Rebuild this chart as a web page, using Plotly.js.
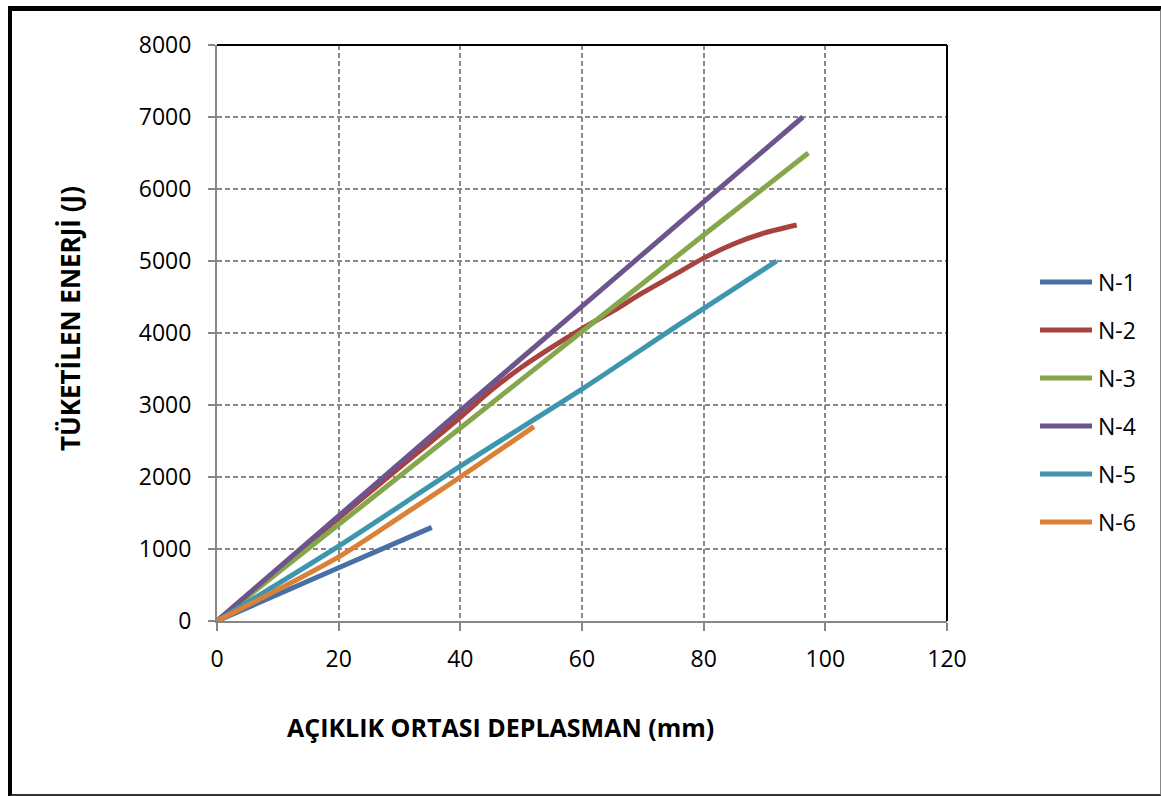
<!DOCTYPE html>
<html>
<head>
<meta charset="utf-8">
<script src="https://cdn.plot.ly/plotly-3.0.1.min.js"></script>
<style>
  html, body { margin: 0; padding: 0; background: #ffffff; }
  #frame { position: absolute; left: 8px; top: 6px; width: 1148px; height: 783px;
           border-left: 4px solid #000; border-top: 5px solid #000;
           border-right: 2px solid #888; border-bottom: 3px solid #333; pointer-events: none; z-index: 5; }
  #chart { position: absolute; left: 0; top: 0; width: 1161px; height: 796px; }
</style>
</head>
<body>
<div id="chart"></div>
<div id="frame"></div>
<script>
// Series names and colours
const seriesNames = ['N-1', 'N-2', 'N-3', 'N-4', 'N-5', 'N-6'];
const seriesColors = ['#4A6FA5', '#A8423F', '#86A64B', '#6E548D', '#3D96AE', '#DA8137'];

// Displacement (mm) and consumed energy (J)
const n1X = [0, 20, 35.3];
const n1Y = [0, 740, 1300];

const n2X = [0, 10, 20, 30, 40, 45, 50, 55, 60, 65, 70, 75, 80, 85, 90, 95.3];
const n2Y = [0, 720, 1430, 2130, 2830, 3200, 3520, 3800, 4060, 4300, 4560, 4800, 5040, 5240, 5390, 5500];

const n3X = [0, 40, 60, 80, 97.2];
const n3Y = [0, 2680, 4020, 5360, 6500];

const n4X = [0, 40, 60, 80, 96.3];
const n4Y = [0, 2920, 4370, 5820, 7000];

const n5X = [0, 20, 40, 60, 76, 92];
const n5Y = [0, 1040, 2150, 3220, 4120, 5000];

const n6X = [0, 20, 30, 40, 52.1];
const n6Y = [0, 890, 1440, 2000, 2700];

const xTickVals = [0, 20, 40, 60, 80, 100, 120];
const yTickVals = [0, 1000, 2000, 3000, 4000, 5000, 6000, 7000, 8000];

const xTitle = 'AÇIKLIK ORTASI DEPLASMAN (mm)';
const yTitle = 'TÜKETİLEN ENERJİ (J)';

const allX = [n1X, n2X, n3X, n4X, n5X, n6X];
const allY = [n1Y, n2Y, n3Y, n4Y, n5Y, n6Y];

const FONT = '"Open Sans", "Noto Sans", "Liberation Sans", sans-serif';

const traces = seriesNames.map((name, i) => ({
  type: 'scatter',
  mode: 'lines',
  name: name,
  x: allX[i],
  y: allY[i],
  line: { color: seriesColors[i], width: 5, shape: 'spline', smoothing: 0.8 },
  showlegend: false,
  hoverinfo: 'x+y+name'
}));

const plotL = 217, plotR = 947, plotT = 45, plotB = 621;
const pw = plotR - plotL, ph = plotB - plotT;
const toPX = px => (px - plotL) / pw;
const toPY = py => (plotB - py) / ph;

const shapes = [
  { type: 'line', xref: 'paper', yref: 'paper', x0: 0, x1: 1, y0: 1, y1: 1, line: { color: '#000', width: 2 }, layer: 'above' },
  { type: 'line', xref: 'paper', yref: 'paper', x0: 1, x1: 1, y0: 0, y1: 1, line: { color: '#000', width: 2 }, layer: 'above' }
];
const annotations = [
  { xref: 'paper', yref: 'paper', x: toPX(500), y: toPY(727), xanchor: 'center', yanchor: 'middle',
    text: '<b>' + xTitle + '</b>', showarrow: false,
    font: { family: FONT, size: 25, color: '#000' } },
  { xref: 'paper', yref: 'paper', x: toPX(70), y: toPY(319), xanchor: 'center', yanchor: 'middle',
    textangle: -90, text: '<b>' + yTitle + '</b>', showarrow: false,
    font: { family: FONT, size: 26, color: '#000' } }
];
// custom legend built from series names/colours
seriesNames.forEach((name, i) => {
  const yPix = 282 + i * 48;
  shapes.push({ type: 'line', xref: 'paper', yref: 'paper',
    x0: toPX(1040), x1: toPX(1092), y0: toPY(yPix), y1: toPY(yPix),
    line: { color: seriesColors[i], width: 5 } });
  annotations.push({ xref: 'paper', yref: 'paper', x: toPX(1096), y: toPY(yPix),
    xanchor: 'left', yanchor: 'middle', text: name, showarrow: false,
    font: { family: FONT, size: 23, color: '#000' } });
});

const layout = {
  width: 1161, height: 796,
  margin: { l: plotL, r: 1161 - plotR, t: plotT, b: 796 - plotB },
  paper_bgcolor: '#ffffff',
  plot_bgcolor: '#ffffff',
  showlegend: false,
  font: { family: FONT, size: 23, color: '#000' },
  xaxis: {
    range: [0, 120], tickvals: xTickVals, ticktext: xTickVals.map(String),
    showline: true, linecolor: '#868686', linewidth: 2,
    showgrid: true, gridcolor: '#888888', gridwidth: 1.6, griddash: '5px,3px',
    zeroline: false, ticks: 'outside', ticklen: 8, tickcolor: '#868686', tickwidth: 2,
    ticklabelstandoff: 8,
    tickfont: { family: FONT, size: 23, color: '#000' },
    automargin: false, fixedrange: true
  },
  yaxis: {
    range: [0, 8000], tickvals: yTickVals, ticktext: yTickVals.map(String),
    showline: true, linecolor: '#868686', linewidth: 2,
    showgrid: true, gridcolor: '#888888', gridwidth: 1.6, griddash: '5px,3px',
    zeroline: false, ticks: 'outside', ticklen: 7, tickcolor: '#868686', tickwidth: 2,
    ticklabelstandoff: 12,
    tickfont: { family: FONT, size: 23, color: '#000' },
    automargin: false, fixedrange: true
  },
  shapes: shapes,
  annotations: annotations
};

Plotly.newPlot('chart', traces, layout, { displayModeBar: false });
</script>
</body>
</html>
